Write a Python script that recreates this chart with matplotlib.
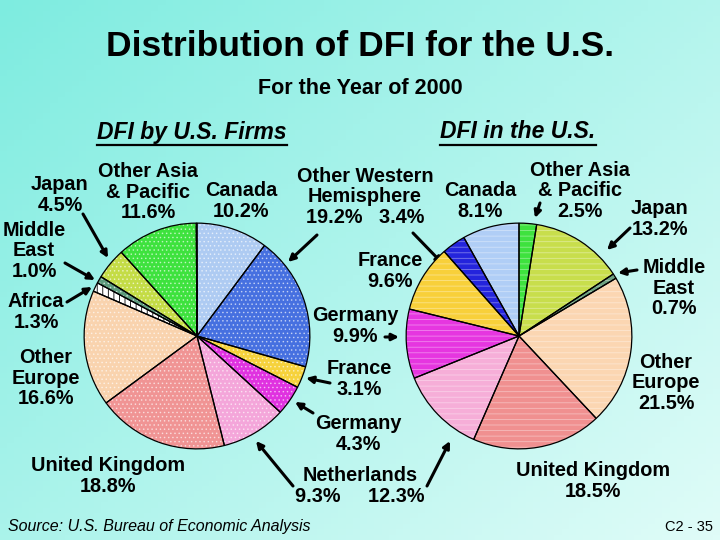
import numpy as np
import matplotlib.pyplot as plt
import matplotlib.colors as mcolors
from matplotlib.lines import Line2D

plt.rcParams['font.family'] = ['Liberation Sans', 'DejaVu Sans']
plt.rcParams['hatch.linewidth'] = 0.6

# DFI by U.S. firms (clockwise from top)
firms_labels = ['Canada', 'Other Western Hemisphere', 'France', 'Germany', 'Netherlands',
                'United Kingdom', 'Other Europe', 'Africa', 'Middle East', 'Japan',
                'Other Asia & Pacific', 'Unallocated']
firms_values = [10.2, 19.2, 3.1, 4.3, 9.3, 18.8, 16.6, 1.3, 1.0, 4.5, 11.6, 0.1]
firms_colors = ['#aecbf2', '#4670e0', '#f6d23c', '#e032e0', '#f4a6da', '#f09494',
                '#f9d3ae', '#ffffff', '#5c9a7c', '#c4dc46', '#3ee23e', '#f4f0ff']

# DFI in the U.S. (clockwise from top)
us_labels = ['Other Asia & Pacific', 'Japan', 'Middle East', 'Other Europe', 'United Kingdom',
             'Netherlands', 'Germany', 'France', 'Other Western Hemisphere', 'Canada']
us_values = [2.5, 13.2, 0.7, 21.5, 18.5, 12.3, 9.9, 9.6, 3.4, 8.1]
us_colors = ['#3ee23e', '#c8de4c', '#6ea282', '#fbd6b2', '#f09090', '#f6aed8',
             '#e636e0', '#f8d03a', '#2424dc', '#b0cef6']

W, H = 720, 540
fig = plt.figure(figsize=(7.2, 5.4), dpi=100)

# background gradient
bg = fig.add_axes([0, 0, 1, 1])
bg.set_xlim(0, W)
bg.set_ylim(H, 0)
bg.axis('off')
c1 = np.array(mcolors.to_rgb('#7eece0'))
c2 = np.array(mcolors.to_rgb('#e0fcf8'))
yy, xx = np.mgrid[0:1:100j, 0:1:100j]
t = np.clip(0.55 * xx + 0.45 * yy, 0, 1)[..., None]
bg.imshow(c1 * (1 - t) + c2 * t, extent=[0, W, H, 0], aspect='auto', zorder=0)


def pie_axes(cx, cy, r):
    return fig.add_axes([(cx - r) / W, (H - cy - r) / H, 2 * r / W, 2 * r / H])


def draw_pie(ax, values, colors, hatch, hatch_colors):
    wedges, _ = ax.pie(values, colors=colors, startangle=90, counterclock=False,
                       wedgeprops=dict(linewidth=0), hatch=hatch)
    for w, hc in zip(wedges, hatch_colors):
        w.set_edgecolor(hc)
    ax.pie(values, colors=['none'] * len(values), startangle=90, counterclock=False,
           wedgeprops=dict(linewidth=0.9, edgecolor='black', facecolor='none'))
    ax.set_xlim(-1.01, 1.01)
    ax.set_ylim(-1.01, 1.01)
    ax.set_aspect('equal')
    ax.axis('off')


ax1 = pie_axes(197, 336, 114)
hc1 = [(1, 1, 1, 0.55)] * len(firms_values)
hc1[7] = (0, 0, 0, 1)
h1 = ['....'] * len(firms_values)
h1[7] = '|||'
draw_pie(ax1, firms_values, firms_colors, h1, hc1)

ax2 = pie_axes(519, 336, 114)
hc2 = [(1, 1, 1, 0.4)] * len(us_values)
draw_pie(ax2, us_values, us_colors, ['---'] * len(us_values), hc2)

# titles
bg.text(360, 47, 'Distribution of DFI for the U.S.', ha='center', va='center',
        fontsize=25.5, fontweight='bold')
bg.text(360, 89, 'For the Year of 2000', ha='center', va='center', fontsize=15.5,
        fontweight='bold')
heads = [bg.text(192, 132, 'DFI by U.S. Firms', ha='center', va='center', fontsize=16.5,
                 fontweight='bold', style='italic'),
         bg.text(518, 132, 'DFI in the U.S.', ha='center', va='center', fontsize=16.5,
                 fontweight='bold', style='italic')]

lab = dict(ha='center', va='center', fontsize=14.3, fontweight='bold', linespacing=1.12)
texts = [
    (60, 195, 'Japan\n4.5%'),
    (148, 192, 'Other Asia\n& Pacific\n11.6%'),
    (241, 201, 'Canada\n10.2%'),
    (34, 251, 'Middle\nEast\n1.0%'),
    (36, 312, 'Africa\n1.3%'),
    (46, 378, 'Other\nEurope\n16.6%'),
    (108, 476, 'United Kingdom\n18.8%'),
    (365, 197, 'Other Western\nHemisphere\n19.2%   3.4%'),
    (480, 201, 'Canada\n8.1%'),
    (390, 271, 'France\n9.6%'),
    (355, 326, 'Germany\n9.9%'),
    (359, 379, 'France\n3.1%'),
    (358, 434, 'Germany\n4.3%'),
    (360, 486, 'Netherlands\n9.3%     12.3%'),
    (580, 191, 'Other Asia\n& Pacific\n2.5%'),
    (660, 219, 'Japan\n13.2%'),
    (674, 288, 'Middle\nEast\n0.7%'),
    (666, 383, 'Other\nEurope\n21.5%'),
    (593, 481, 'United Kingdom\n18.5%'),
]
for x, y, s in texts:
    bg.text(x, y, s, **lab)

arrows = [
    ((83, 214), (108, 258)),
    ((65, 263), (95, 280)),
    ((67, 302), (92, 287)),
    ((317, 235), (288, 262)),
    ((330, 383), (306, 378)),
    ((313, 413), (295, 402)),
    ((293, 486), (256, 441)),
    ((413, 233), (443, 264)),
    ((385, 337), (399, 337)),
    ((427, 486), (450, 441)),
    ((540, 203), (535, 218)),
    ((630, 228), (607, 250)),
    ((637, 270), (618, 273)),
]
for (x0, y0), (x1, y1) in arrows:
    bg.annotate('', xy=(x1, y1), xytext=(x0, y0),
                arrowprops=dict(arrowstyle='-|>', color='black', lw=2.2,
                                mutation_scale=10, shrinkA=0, shrinkB=0))

bg.text(8, 527, 'Source: U.S. Bureau of Economic Analysis', ha='left', va='center',
        fontsize=11.5, style='italic')
bg.text(713, 527, 'C2 - 35', ha='right', va='center', fontsize=10.5)

# underline the two section headings
fig.canvas.draw()
r = fig.canvas.get_renderer()
for h in heads:
    bb = h.get_window_extent(r)
    yb = bb.y0 - 1
    fig.add_artist(Line2D([bb.x0 / W, bb.x1 / W], [yb / H, yb / H], color='black',
                          lw=1.6, transform=fig.transFigure))

fig.savefig('out.png', dpi=100)
